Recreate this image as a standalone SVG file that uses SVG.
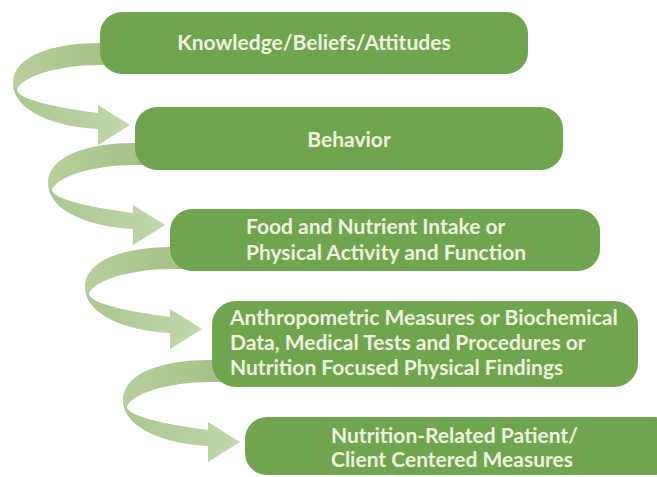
<svg xmlns="http://www.w3.org/2000/svg" width="657" height="477" viewBox="0 0 657 477">
<defs>
<style>
.box{fill:#70a550;}
.lbl{font-family:"Lato","Liberation Sans",sans-serif;font-weight:700;font-size:21px;fill:#eef3df;}
.back{fill:url(#gBack);}
.front{fill:url(#gFront);}
</style>
<linearGradient id="gBack" x1="0" y1="0" x2="1" y2="0">
<stop offset="0" stop-color="#b7cf9c"/>
<stop offset="1" stop-color="#a3c083"/>
</linearGradient>
<linearGradient id="gFront" x1="0" y1="0" x2="1" y2="0">
<stop offset="0" stop-color="#abc68e"/>
<stop offset="1" stop-color="#c2d8ab"/>
</linearGradient>
<g id="swirl">
<path class="back" d="M20,0 L0,0 C-45,0 -87,12 -87,40 L-83,47 C-80,35 -45,22 0,22 L20,22 Z"/>
<path class="front" d="M-87,40 C-87,68 -45,84 -2,86 L-2,102 L30,82 L-2,62 L-2,70 C-50,64 -83,55 -83,47 Z"/>
</g>
</defs>
<rect width="657" height="477" fill="#ffffff"/>
<g id="connectors">
<use href="#swirl" x="100" y="43"/>
<use href="#swirl" x="135" y="143"/>
<use href="#swirl" x="172" y="247"/>
<use href="#swirl" x="210" y="360"/>
</g>
<g id="node1">
<rect class="box" x="100" y="12" width="428" height="62" rx="22"/>
<text class="lbl" x="314" y="50" text-anchor="middle">Knowledge/Beliefs/Attitudes</text>
</g>
<g id="node2">
<rect class="box" x="135" y="107" width="428" height="63" rx="22"/>
<text class="lbl" x="349" y="147" text-anchor="middle">Behavior</text>
</g>
<g id="node3">
<rect class="box" x="170" y="209" width="430" height="62" rx="22"/>
<text class="lbl" x="246" y="234">Food and Nutrient Intake or</text>
<text class="lbl" x="246" y="260">Physical Activity and Function</text>
</g>
<g id="node4">
<rect class="box" x="212" y="301" width="426" height="86" rx="24"/>
<text class="lbl" x="230" y="325">Anthropometric Measures or Biochemical</text>
<text class="lbl" x="230" y="350">Data, Medical Tests and Procedures or</text>
<text class="lbl" x="230" y="375">Nutrition Focused Physical Findings</text>
</g>
<g id="node5">
<rect class="box" x="245" y="417" width="430" height="58" rx="22"/>
<text class="lbl" x="331" y="443">Nutrition-Related Patient/</text>
<text class="lbl" x="331" y="467">Client Centered Measures</text>
</g>
</svg>
